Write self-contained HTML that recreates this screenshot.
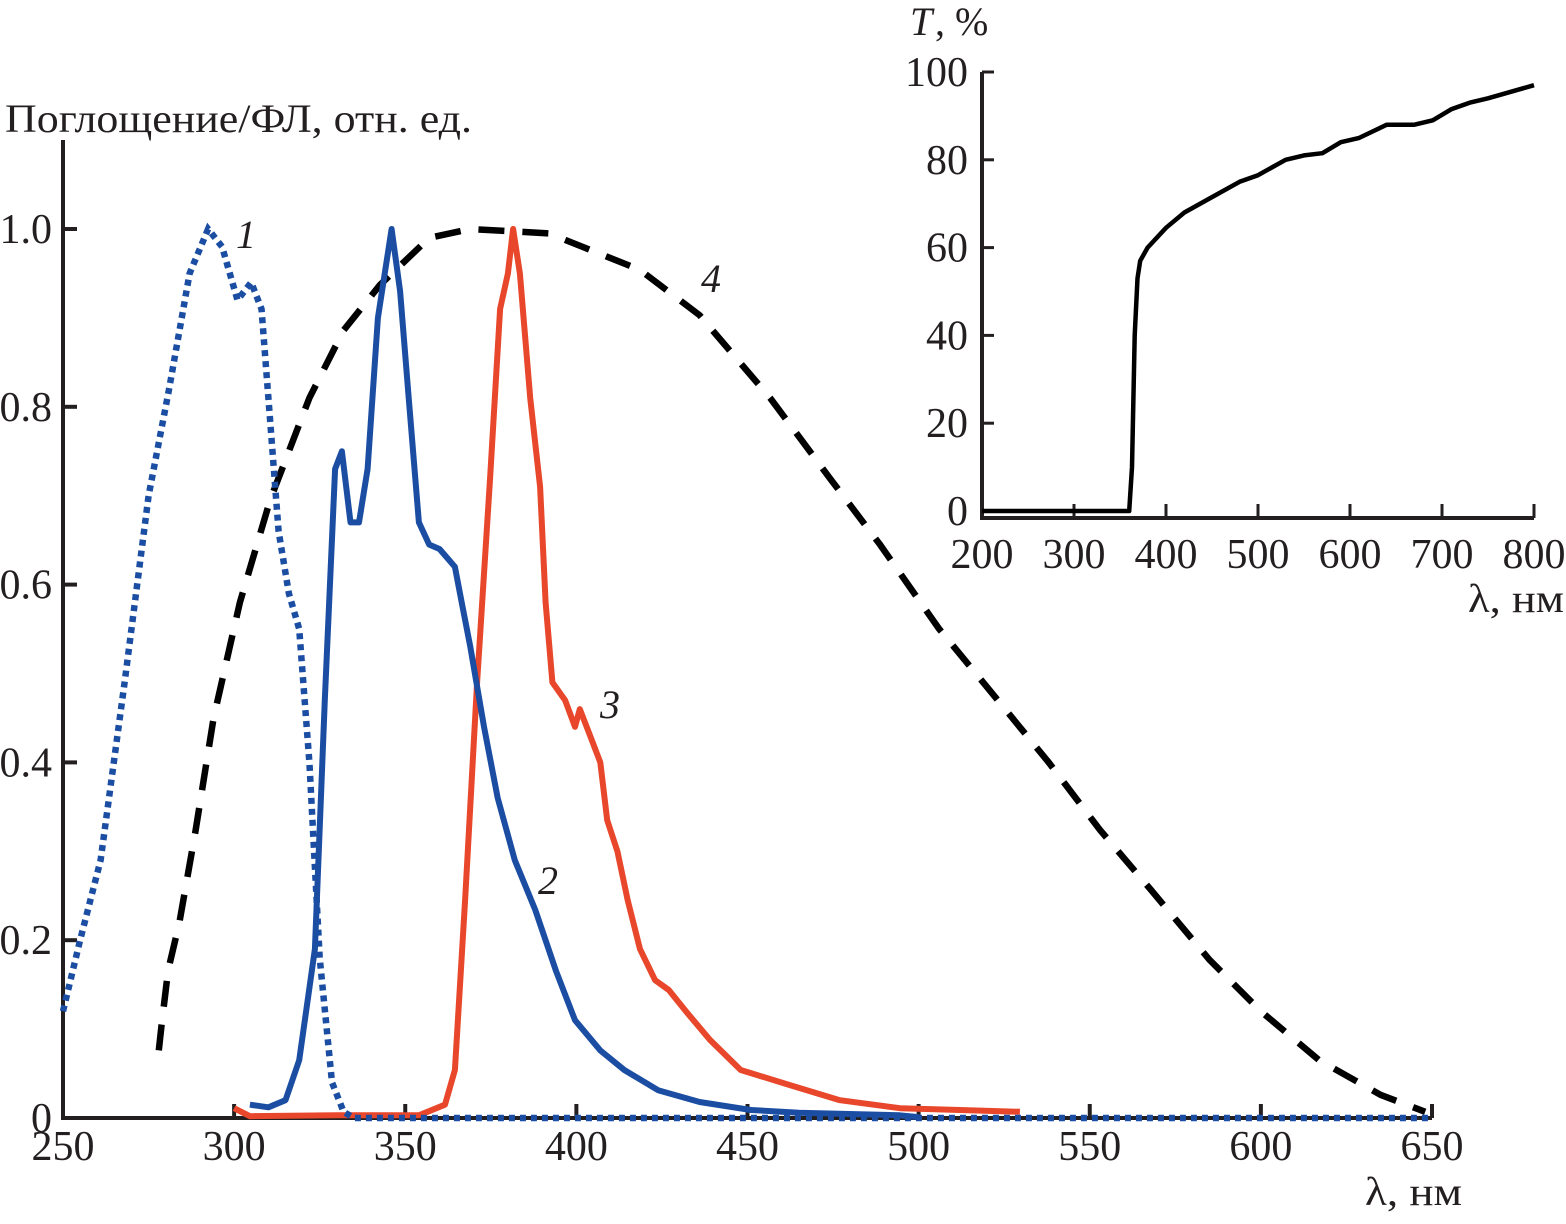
<!DOCTYPE html>
<html><head><meta charset="utf-8"><style>
html,body{margin:0;padding:0;background:#fff}
svg text{font-family:"Liberation Serif",serif;fill:#231f20}
</style></head><body>
<svg id="c" width="1566" height="1219" viewBox="0 0 1566 1219" xmlns="http://www.w3.org/2000/svg"></svg>
<script>
const mainXTicks=[250,300,350,400,450,500,550,600,650];
const mainYTicks=[0,0.2,0.4,0.6,0.8,1.0];
const mainYLabels=["0","0.2","0.4","0.6","0.8","1.0"];
const s1x=[250,255,261,268,275,281,287,292.4,296.5,301,305,308,310.5,313,316,319,322,325,328.6,332,335,650];
const s1y=[0.12,0.2,0.29,0.49,0.70,0.82,0.95,1.0,0.98,0.92,0.94,0.91,0.785,0.66,0.59,0.55,0.40,0.18,0.04,0.007,0,0];
const s2x=[304.6,310,315,319,323.6,326.5,329.5,331.5,334,336.5,339,342,346,348.5,351,354,357,360,364.5,366.5,369,373,377,382,388,394,399.6,407,414,424,436,451,465,494.5,500];
const s2y=[0.015,0.012,0.02,0.065,0.19,0.47,0.73,0.75,0.67,0.67,0.73,0.90,1.0,0.93,0.81,0.67,0.645,0.64,0.62,0.58,0.53,0.44,0.36,0.29,0.234,0.166,0.11,0.076,0.054,0.031,0.018,0.009,0.006,0.003,0.001];
const s3x=[300,304.6,330,354,361.6,364.5,367.5,371,374.8,377.7,380,381.5,383.5,386.5,389.4,391,393,396.7,399.6,401,404,407,409,412,415,418.6,423,427,432,439,448,462.4,477,494.6,512,529.6];
const s3y=[0.011,0.002,0.003,0.003,0.015,0.054,0.245,0.49,0.72,0.91,0.95,1.0,0.95,0.81,0.71,0.58,0.49,0.47,0.44,0.46,0.43,0.40,0.335,0.30,0.245,0.19,0.155,0.144,0.12,0.088,0.054,0.037,0.02,0.011,0.009,0.007];
const s4x=[278,278.8,280.7,284,288.6,294,301.7,310.5,322,332,342.6,357,369,392,418.6,436,456.6,474,488.7,506,521,538,553,568,585,600,617,635,648];
const s4y=[0.076,0.105,0.166,0.22,0.32,0.45,0.58,0.695,0.81,0.886,0.937,0.99,1.0,0.995,0.954,0.903,0.81,0.72,0.645,0.55,0.48,0.40,0.324,0.256,0.178,0.12,0.065,0.026,0.007];
const insXTicks=[200,300,400,500,600,700,800];
const insYTicks=[0,20,40,60,80,100];
const tx=[200,360,363,366,369,372,380,400,420,450,480,500,530,550,570,590,610,640,670,690,710,730,750,800];
const ty=[0,0,10,40,53,57,60,64.5,68,71.5,75,76.5,80,81,81.5,84,85,88,88,89,91.5,93,94,97];

const svg=document.getElementById('c');const NS="http://www.w3.org/2000/svg";
function el(t,a,txt){const e=document.createElementNS(NS,t);for(const k in a)e.setAttribute(k,a[k]);if(txt!==undefined)e.textContent=txt;svg.appendChild(e);return e;}
const X=v=>63+(v-250)*3.4225, Y=v=>1118-v*889;
const IX=v=>982+(v-200)*0.92, IY=v=>511-v*4.39;
function path(xs,ys,fx,fy){return xs.map((v,i)=>(i?'L':'M')+fx(v).toFixed(1)+' '+fy(ys[i]).toFixed(1)).join(' ');}

let a=el('path',{d:`M63 140 L63 1118 L1432 1118`,fill:'none',stroke:'#231f20','stroke-width':4});

mainXTicks.forEach(v=>{let t=el('line',{x1:X(v),x2:X(v),y1:1118,y2:1104,stroke:'#231f20','stroke-width':4});

let l=el('text',{x:X(v),y:1160,'font-size':42,'text-anchor':'middle'},String(v));
});
mainYTicks.forEach((v,i)=>{let t=el('line',{x1:63,x2:77,y1:Y(v),y2:Y(v),stroke:'#231f20','stroke-width':4});

let l=el('text',{x:52,y:Y(v)+14,'font-size':42,'text-anchor':'end'},mainYLabels[i]);
});
let yt=el('text',{x:5,y:132,'font-size':40,textLength:467,lengthAdjust:'spacingAndGlyphs'},'Поглощение/ФЛ, отн. ед.');

let xt=el('text',{x:1365,y:1205,'font-size':40,textLength:97,lengthAdjust:'spacingAndGlyphs'},'λ, нм');


let p4=el('path',{d:path(s4x,s4y,X,Y),fill:'none',stroke:'#000','stroke-width':6.5,'stroke-dasharray':'26 18'});

let p3=el('path',{d:path(s3x,s3y,X,Y),fill:'none',stroke:'#e8472b','stroke-width':6,'stroke-linejoin':'round'});

let p2=el('path',{d:path(s2x,s2y,X,Y),fill:'none',stroke:'#1b4ea3','stroke-width':6,'stroke-linejoin':'round'});

let p1=el('path',{d:path(s1x,s1y,X,Y),fill:'none',stroke:'#1b4ea3','stroke-width':6.5,'stroke-dasharray':'6 5'});

[['1',246,248,'curve-label-1'],['2',548,894,'curve-label-2'],['3',610,718,'curve-label-3'],['4',711,292,'curve-label-4']].forEach(c=>{
let l=el('text',{x:c[1],y:c[2],'font-size':40,'font-style':'italic','text-anchor':'middle'},c[0]);
});

let ia=el('path',{d:`M982 72 L982 518 L1534 518`,fill:'none',stroke:'#231f20','stroke-width':4});

insXTicks.forEach(v=>{let t=el('line',{x1:IX(v),x2:IX(v),y1:518,y2:504,stroke:'#231f20','stroke-width':3});

let l=el('text',{x:IX(v),y:568,'font-size':42,'text-anchor':'middle'},String(v));
});
insYTicks.forEach(v=>{let t=el('line',{x1:982,x2:994,y1:IY(v),y2:IY(v),stroke:'#231f20','stroke-width':3});

let l=el('text',{x:968,y:IY(v)+14,'font-size':42,'text-anchor':'end'},String(v));
});
let it=el('text',{x:910,y:35,'font-size':40,'font-style':'italic'},'T');

let it2=el('text',{x:935,y:35,'font-size':40},', %');

let ix=el('text',{x:1468,y:612,'font-size':40,textLength:96,lengthAdjust:'spacingAndGlyphs'},'λ, нм');

let pt=el('path',{d:path(tx,ty,IX,IY),fill:'none',stroke:'#000','stroke-width':4.5,'stroke-linejoin':'round'});

</script>
</body></html>
